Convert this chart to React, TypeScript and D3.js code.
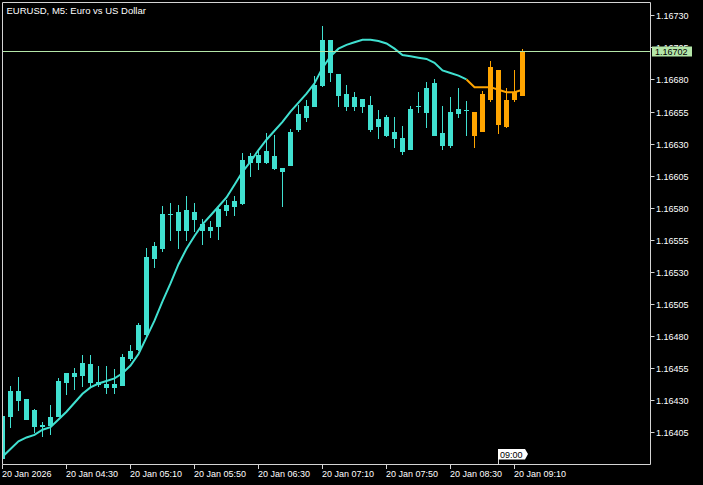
import React from 'react'
import * as d3 from 'd3'

// EURUSD M5 candles, 03:50 .. 09:15
const opens = [
  1.16385, 1.16418, 1.16437, 1.16431, 1.16422, 1.1641, 1.16411, 1.16418, 1.16444, 1.16451,
  1.1645, 1.16458, 1.16444, 1.16443, 1.1644, 1.16442, 1.16463, 1.1647, 1.16482, 1.16541,
  1.16549, 1.16575, 1.16577, 1.16563, 1.16577, 1.16567, 1.16563, 1.16566, 1.16578, 1.16581,
  1.16584, 1.16616, 1.16621, 1.16616, 1.1662, 1.16611, 1.16613, 1.16641, 1.16651, 1.16659,
  1.16676, 1.16711, 1.16684, 1.16669, 1.16659, 1.16665, 1.1666, 1.16644, 1.16651, 1.16639,
  1.16634, 1.16626, 1.16659, 1.16655, 1.16677, 1.16638, 1.16629, 1.16654, 1.16656, 1.16655,
  1.1664, 1.16665, 1.16687, 1.16644, 1.16665, 1.16668,
]
const highs = [
  1.1642, 1.16441, 1.16448, 1.16431, 1.16423, 1.16413, 1.16426, 1.16447, 1.16451, 1.16455,
  1.16465, 1.16465, 1.16457, 1.16457, 1.16454, 1.16466, 1.16473, 1.1649, 1.16549, 1.16553,
  1.16581, 1.16584, 1.16582, 1.16589, 1.16584, 1.16571, 1.1657, 1.1658, 1.16586, 1.16589,
  1.16623, 1.16623, 1.16625, 1.16638, 1.16637, 1.16611, 1.16641, 1.1666, 1.16664, 1.16683,
  1.16722, 1.16711, 1.16684, 1.16676, 1.1667, 1.16665, 1.16667, 1.16656, 1.16652, 1.16651,
  1.16644, 1.16659, 1.1667, 1.16678, 1.1668, 1.16659, 1.16666, 1.16673, 1.16663, 1.16655,
  1.16671, 1.16694, 1.16687, 1.16673, 1.16687, 1.16704,
]
const lows = [
  1.16383, 1.16409, 1.16422, 1.16415, 1.16405, 1.16402, 1.16404, 1.16418, 1.16435, 1.16439,
  1.16441, 1.16441, 1.16441, 1.16436, 1.16436, 1.16442, 1.16461, 1.16469, 1.1648, 1.16534,
  1.16546, 1.16555, 1.16549, 1.16555, 1.16562, 1.16552, 1.16557, 1.16556, 1.16574, 1.16574,
  1.16583, 1.16605, 1.1661, 1.16615, 1.1661, 1.16581, 1.16613, 1.1664, 1.16648, 1.16659,
  1.16675, 1.16679, 1.16659, 1.16656, 1.16656, 1.16655, 1.1664, 1.16634, 1.16636, 1.16627,
  1.16622, 1.16626, 1.16655, 1.16643, 1.16637, 1.16626, 1.16627, 1.16651, 1.16637, 1.16627,
  1.1664, 1.16663, 1.16638, 1.16643, 1.16663, 1.16668,
]
const closes = [
  1.16418, 1.16437, 1.1643, 1.16415, 1.1641, 1.16411, 1.16417, 1.16445, 1.16451, 1.16449,
  1.16459, 1.16444, 1.16443, 1.1644, 1.16443, 1.16464, 1.16468, 1.16489, 1.16542, 1.1655,
  1.16575, 1.16575, 1.16563, 1.16578, 1.16571, 1.16563, 1.16565, 1.16579, 1.16582, 1.16585,
  1.16617, 1.1662, 1.16616, 1.16624, 1.16611, 1.16609, 1.16639, 1.16653, 1.16659, 1.16676,
  1.16711, 1.16686, 1.16668, 1.16659, 1.16666, 1.16659, 1.16641, 1.16649, 1.16637, 1.16634,
  1.16624, 1.16657, 1.16659, 1.16673, 1.16637, 1.16629, 1.16655, 1.16657, 1.16656, 1.16637,
  1.16669, 1.1669, 1.16645, 1.16664, 1.1667, 1.16702,
]
// moving average line
const maValues = [
  1.16386, 1.16392, 1.16398, 1.16401, 1.16403, 1.16407, 1.16409, 1.16415, 1.16421, 1.16428,
  1.16435, 1.1644, 1.16443, 1.16445, 1.16447, 1.16451, 1.16457, 1.16466, 1.16479, 1.16492,
  1.16507, 1.16521, 1.16536, 1.16548, 1.16558, 1.16567, 1.16574, 1.16581, 1.16588, 1.16598,
  1.16608, 1.16616, 1.16625, 1.16633, 1.1664, 1.16647, 1.16655, 1.16662, 1.16669, 1.16677,
  1.16689, 1.16698, 1.16704, 1.16707, 1.16709, 1.16711, 1.16711, 1.1671, 1.16708, 1.16704,
  1.16699, 1.16698, 1.16697, 1.16696, 1.16693, 1.16687, 1.16685, 1.16683, 1.1668, 1.16674,
  1.16674, 1.16674, 1.16672, 1.1667, 1.1667, 1.16672,
]
const signalFrom = 59 // bars drawn in the second colour

const priceTicks = [
  1.16405, 1.1643, 1.16455, 1.1648, 1.16505, 1.1653, 1.16555, 1.1658, 1.16605, 1.1663,
  1.16655, 1.1668, 1.16705, 1.1673,
]
const timeTickIdx = [0, 8, 16, 24, 32, 40, 48, 56, 64]
const timeTickLabels = [
  '20 Jan 2026', '20 Jan 04:30', '20 Jan 05:10', '20 Jan 05:50', '20 Jan 06:30',
  '20 Jan 07:10', '20 Jan 07:50', '20 Jan 08:30', '20 Jan 09:10',
]
const bidPrice = 1.16702
const markerIdx = 62
const markerLabel = '09:00'
const title = 'EURUSD, M5:  Euro vs US Dollar'

const W = 703
const H = 485
const left = 2.5
const right = 650.5
const top = 2.5
const bottom = 464.5

const BULL = '#40e0d0'
const SIGNAL = '#ffa500'
const AXIS = '#d4d4d4'
const BID = '#b4e6a8'
const FONT = '"Liberation Sans", Arial, sans-serif'

const App: React.FC = () => {
  const x = d3.scaleLinear().domain([0, 65]).range([2.5, 522.5])
  const y = d3.scaleLinear().domain([1.16405, 1.1673]).range([432.3, 15.3])

  const bars = opens.map((o, i) => ({
    i,
    o,
    h: highs[i],
    l: lows[i],
    c: closes[i],
  }))

  const line = d3
    .line<number>()
    .x((_, i) => x(i))
    .y(d => y(d))

  const maPts = maValues.map((v, i) => ({ v, i }))
  const maLine = d3
    .line<{ v: number; i: number }>()
    .x(d => x(d.i))
    .y(d => y(d.v))
  const maA = maLine(maPts.slice(0, signalFrom))
  const maB = maLine(maPts.slice(signalFrom - 1))
  void line

  const bidY = Math.round(y(bidPrice)) + 0.5
  const mx = Math.floor(x(markerIdx))

  return (
    <svg
      width={W}
      height={H}
      style={{ position: 'absolute', left: 0, top: 0, background: '#000' }}
      fontFamily={FONT}
    >
      <rect x={0} y={0} width={W} height={H} fill="#000" />
      <defs>
        <clipPath id="plot">
          <rect x={left} y={top} width={right - left} height={bottom - top} />
        </clipPath>
      </defs>

      <text x={6.5} y={13.5} fill="#fff" fontSize={9.5}>
        {title}
      </text>

      <g clipPath="url(#plot)">
        {bars.map(b => {
          const cx = Math.floor(x(b.i))
          const col = b.i >= signalFrom ? SIGNAL : BULL
          const yHi = Math.round(y(b.h))
          const yLo = Math.round(y(b.l))
          const yTop = Math.round(y(Math.max(b.o, b.c)))
          const yBot = Math.round(y(Math.min(b.o, b.c)))
          return (
            <g key={b.i} fill={col}>
              <rect x={cx} y={yHi} width={1} height={Math.max(1, yLo - yHi + 1)} />
              <rect x={cx - 2} y={yTop} width={5} height={Math.max(1, yBot - yTop + 1)} />
            </g>
          )
        })}
        <path d={maA || ''} fill="none" stroke={BULL} strokeWidth={2} />
        <path d={maB || ''} fill="none" stroke={SIGNAL} strokeWidth={2} />
        <line x1={left} x2={right} y1={bidY} y2={bidY} stroke={BID} strokeWidth={1} />
      </g>

      {/* frame */}
      <path
        d={`M${left},${bottom}V${top}H${right}V${bottom}H${left}`}
        fill="none"
        stroke={AXIS}
        strokeWidth={1}
      />

      {/* price axis */}
      {priceTicks.map(p => {
        const ty = Math.round(y(p)) + 0.5
        return (
          <g key={p}>
            <line x1={right} x2={right + 4} y1={ty} y2={ty} stroke={AXIS} />
            <text x={656} y={ty + 3.3} fill="#fff" fontSize={9}>
              {p.toFixed(5)}
            </text>
          </g>
        )
      })}
      <rect x={652} y={bidY - 5} width={40} height={10} fill={BID} />
      <text x={655} y={bidY + 3.3} fill="#000" fontSize={9}>
        {bidPrice.toFixed(5)}
      </text>

      {/* time axis */}
      {timeTickIdx.map((k, j) => {
        const tx = Math.floor(x(k)) + 0.5
        return (
          <g key={k}>
            <line x1={tx} x2={tx} y1={bottom} y2={bottom + 4.5} stroke={AXIS} />
            <text x={tx - 0.5} y={477} fill="#fff" fontSize={9}>
              {timeTickLabels[j]}
            </text>
          </g>
        )
      })}

      {/* vertical time marker */}
      <line x1={mx + 0.5} x2={mx + 0.5} y1={459} y2={bottom} stroke={AXIS} />
      <path
        d={`M${mx},${449}H${mx + 27}L${mx + 30},${454}L${mx + 27},${459.5}H${mx}Z`}
        fill="#fff"
      />
      <text x={mx + 2} y={457.5} fill="#000" fontSize={9}>
        {markerLabel}
      </text>
    </svg>
  )
}

export default App
